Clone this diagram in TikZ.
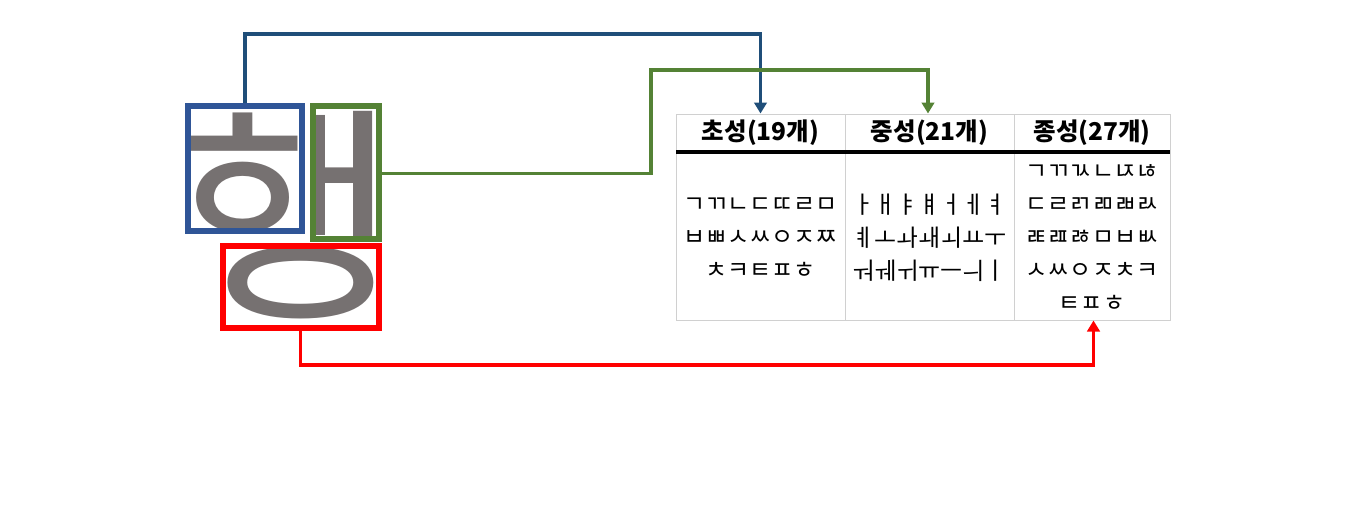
\documentclass[tikz,border=0pt]{standalone}
\usepackage{fontspec}
\newfontfamily\kr{Noto Sans CJK KR}
\usetikzlibrary{arrows.meta}
\definecolor{boxblue}{HTML}{2F5597}
\definecolor{lineblue}{HTML}{1F4E79}
\definecolor{mygreen}{HTML}{548235}
\definecolor{myred}{HTML}{FF0000}
\definecolor{glyphgray}{HTML}{767171}
\definecolor{gridgray}{HTML}{D0D0D0}
\tikzset{
  partbox/.style={draw, line width=6pt, inner sep=0pt},
  link/.style={line width=3.5pt, -{Triangle[length=11pt,width=12.5pt]}},
  cell/.style={draw=gridgray, line width=1pt, minimum height=206pt, inner sep=0pt},
  head/.style={font=\kr\bfseries\fontsize{24.5}{28}\selectfont, anchor=center, inner sep=0pt},
  jamo/.style={font=\kr\fontsize{24}{33}\selectfont, align=center, anchor=center, inner sep=0pt},
}
\begin{document}
\begin{tikzpicture}[x=1pt,y=-1pt]
\useasboundingbox (0,0) rectangle (1361,504);
% glyph, clipped to the three boxes
\begin{scope}
  \clip (188,106) rectangle (302,231) (313,106) rectangle (379,239) (223,246) rectangle (379,328);
  \node[text=glyphgray, font=\kr\fontsize{230}{230}\selectfont, inner sep=0pt, xscale=1.05] (glyph) at (288,215) {행};
\end{scope}
% boxes
\node[partbox, draw=boxblue, minimum width=114pt, minimum height=125pt] (hbox) at (245,168.5) {};
\node[partbox, draw=mygreen, minimum width=66pt, minimum height=133pt] (abox) at (346,172.5) {};
\node[partbox, draw=myred, minimum width=156pt, minimum height=82pt] (obox) at (301,287) {};
% table
\node[cell, minimum width=169pt] (c1) at (760.5,217) {};
\node[cell, minimum width=169pt] (c2) at (929.5,217) {};
\node[cell, minimum width=156pt] (c3) at (1092,217) {};
\draw[line width=3.5pt] (676,152) -- (1170,152);
\node[head] (h1) at (760.5,133) {초성(19개)};
\node[head] (h2) at (929.5,133) {중성(21개)};
\node[head] (h3) at (1092,133) {종성(27개)};
\node[jamo] (j1) at (760.5,238) {ㄱㄲㄴㄷㄸㄹㅁ\\ㅂㅃㅅㅆㅇㅈㅉ\\ㅊㅋㅌㅍㅎ};
\node[jamo] (j2) at (929.5,238) {ㅏㅐㅑㅒㅓㅔㅕ\\ㅖㅗㅘㅙㅚㅛㅜ\\ㅝㅞㅟㅠㅡㅢㅣ};
\node[jamo] (j3) at (1092,238.5) {ㄱㄲㄳㄴㄵㄶ\\ㄷㄹㄺㄻㄼㄽ\\ㄾㄿㅀㅁㅂㅄ\\ㅅㅆㅇㅈㅊㅋ\\ㅌㅍㅎ};
% connectors
\draw[link, draw=lineblue, -{Triangle[length=11pt,width=12.5pt,fill=lineblue]}] (hbox.north) -- ++(0,-69) -| (c1.north);
\draw[link, draw=mygreen] (abox.east |- 0,173.5) -- (651,173.5) |- (928,70) -- (c2.north -| 928,0);
\draw[link, draw=myred] (obox.south -| 300.5,0) -- (300.5,365) -| (c3.south -| 1093.5,0);
\end{tikzpicture}
\end{document}
